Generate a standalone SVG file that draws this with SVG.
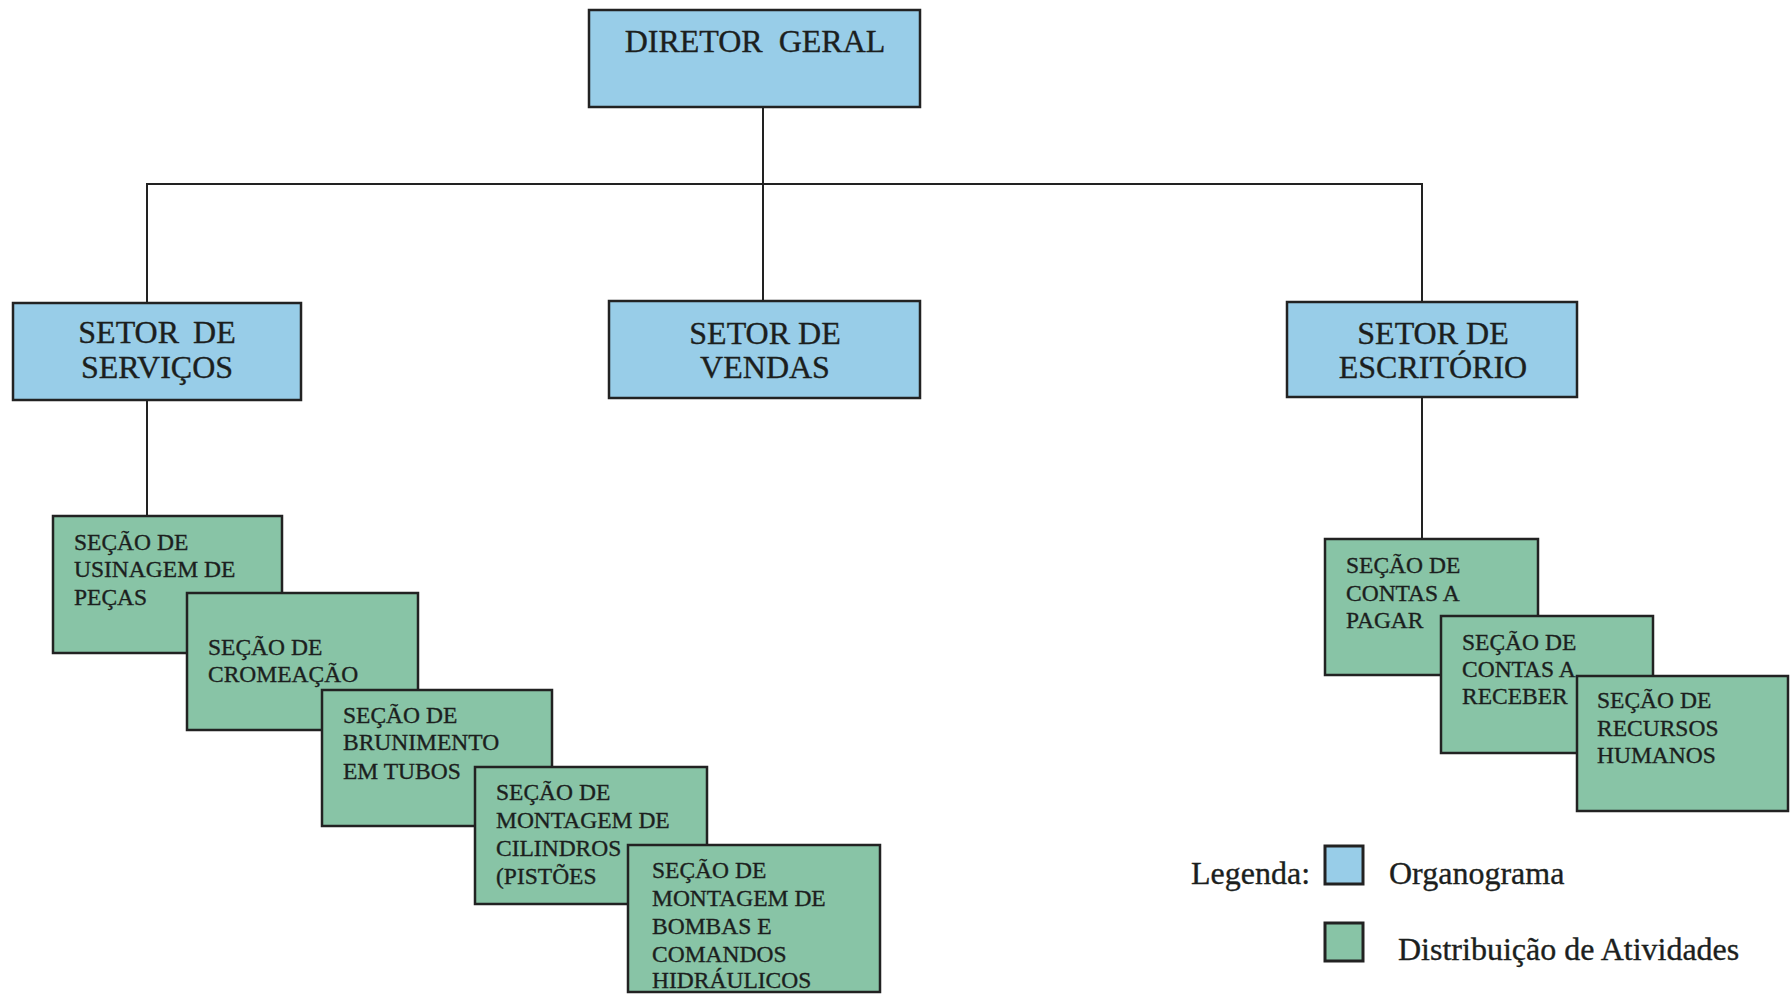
<svg xmlns="http://www.w3.org/2000/svg" width="1790" height="1000" viewBox="0 0 1790 1000">
<style>
text{font-family:"Liberation Serif","Times New Roman",serif;fill:#1c1f1e;stroke:#1c1f1e;stroke-width:0.35}
.org{fill:#98cde8;stroke:#222;stroke-width:2.5}
.act{fill:#88c4a6;stroke:#222;stroke-width:2.5}
.big{font-size:32px;text-anchor:middle}
.sm{font-size:23.5px}
.leg{font-size:32px}
.con{stroke:#222;stroke-width:2;fill:none}
</style>
<rect width="1790" height="1000" fill="#ffffff"/>
<g id="connectors">
<line class="con" x1="763" y1="107" x2="763" y2="301"/>
<polyline class="con" points="147,303 147,184 1422,184 1422,302"/>
<line class="con" x1="147" y1="400" x2="147" y2="516"/>
<line class="con" x1="1422" y1="397" x2="1422" y2="539"/>
</g>
<g id="diretor-geral">
<rect class="org" x="589" y="10" width="331" height="97"/>
<text class="big" x="755" y="52" word-spacing="8">DIRETOR GERAL</text>
</g>
<g id="setor-servicos">
<rect class="org" x="13" y="303" width="288" height="97"/>
<text class="big" x="157" y="343" word-spacing="6">SETOR DE</text>
<text class="big" x="157" y="378">SERVIÇOS</text>
</g>
<g id="setor-vendas">
<rect class="org" x="609" y="301" width="311" height="97"/>
<text class="big" x="765" y="344">SETOR DE</text>
<text class="big" x="765" y="378">VENDAS</text>
</g>
<g id="setor-escritorio">
<rect class="org" x="1287" y="302" width="290" height="95"/>
<text class="big" x="1433" y="344">SETOR DE</text>
<text class="big" x="1433" y="378">ESCRITÓRIO</text>
</g>
<g id="secao-usinagem">
<rect class="act" x="53" y="516" width="229" height="137"/>
<text class="sm" x="74" y="550">SEÇÃO DE</text>
<text class="sm" x="74" y="577">USINAGEM DE</text>
<text class="sm" x="74" y="605">PEÇAS</text>
</g>
<g id="secao-cromeacao">
<rect class="act" x="187" y="593" width="231" height="137"/>
<text class="sm" x="208" y="655">SEÇÃO DE</text>
<text class="sm" x="208" y="682">CROMEAÇÃO</text>
</g>
<g id="secao-brunimento">
<rect class="act" x="322" y="690" width="230" height="136"/>
<text class="sm" x="343" y="723">SEÇÃO DE</text>
<text class="sm" x="343" y="750">BRUNIMENTO</text>
<text class="sm" x="343" y="779">EM TUBOS</text>
</g>
<g id="secao-cilindros">
<rect class="act" x="475" y="767" width="232" height="137"/>
<text class="sm" x="496" y="800">SEÇÃO DE</text>
<text class="sm" x="496" y="828">MONTAGEM DE</text>
<text class="sm" x="496" y="856">CILINDROS</text>
<text class="sm" x="496" y="884">(PISTÕES</text>
</g>
<g id="secao-bombas">
<rect class="act" x="628" y="845" width="252" height="147"/>
<text class="sm" x="652" y="878">SEÇÃO DE</text>
<text class="sm" x="652" y="906">MONTAGEM DE</text>
<text class="sm" x="652" y="934">BOMBAS E</text>
<text class="sm" x="652" y="962">COMANDOS</text>
<text class="sm" x="652" y="988">HIDRÁULICOS</text>
</g>
<g id="secao-contas-pagar">
<rect class="act" x="1325" y="539" width="213" height="136"/>
<text class="sm" x="1346" y="573">SEÇÃO DE</text>
<text class="sm" x="1346" y="601">CONTAS A</text>
<text class="sm" x="1346" y="628">PAGAR</text>
</g>
<g id="secao-contas-receber">
<rect class="act" x="1441" y="616" width="212" height="137"/>
<text class="sm" x="1462" y="650">SEÇÃO DE</text>
<text class="sm" x="1462" y="677">CONTAS A</text>
<text class="sm" x="1462" y="704">RECEBER</text>
</g>
<g id="secao-recursos-humanos">
<rect class="act" x="1577" y="676" width="211" height="135"/>
<text class="sm" x="1597" y="708">SEÇÃO DE</text>
<text class="sm" x="1597" y="736">RECURSOS</text>
<text class="sm" x="1597" y="763">HUMANOS</text>
</g>
<g id="legenda">
<text class="leg" x="1191" y="884">Legenda:</text>
<rect class="org" x="1325" y="846" width="38" height="38" style="stroke-width:3"/>
<text class="leg" x="1389" y="884">Organograma</text>
<rect class="act" x="1325" y="923" width="38" height="38" style="stroke-width:3"/>
<text class="leg" x="1398" y="960">Distribuição de Atividades</text>
</g>
</svg>
